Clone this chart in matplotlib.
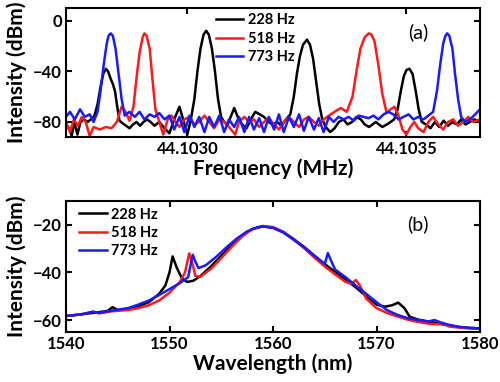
import numpy as np
import matplotlib
matplotlib.use("Agg")
import matplotlib.pyplot as plt

plt.rcParams['font.family'] = ['Lato', 'DejaVu Sans']

# ---- panel (a): beat notes, offsets in Hz from 44.1030 MHz ----
f0 = 44.1030
labels = ['228 Hz', '518 Hz', '773 Hz']
colors = ['black', '#ff1a1a', '#1a1aff']

a_black_hz = [-277, -270, -264, -258, -251, -244, -236, -228, -220, -212, -205, -198, -192, -186,
              -181, -175, -170, -165, -160, -155, -148, -140, -132, -124, -116, -108, -100, -92,
              -84, -75, -64, -52, -41, -30, -18, -8, 0, 8, 16, 23, 30, 37, 43, 49, 56, 63, 70,
              77, 84, 92, 100, 107, 115, 125, 135, 145, 155, 165, 175, 185, 195, 205, 215, 225,
              235, 243, 250, 257, 264, 273, 280, 287, 294, 301, 308, 316, 326, 336, 346, 356,
              366, 376, 386, 396, 405, 415, 430, 445, 460, 472, 480, 487, 494, 500, 507, 514,
              521, 528, 535, 545, 555, 565, 575, 585, 595, 605, 615, 625, 635, 645, 655, 668]
a_black_db = [-82, -85, -91, -80, -90, -80, -78, -80, -78, -75, -66, -52, -42, -38,
              -40, -46, -50, -56, -68, -79, -81, -83, -85, -82, -80, -83, -80, -78,
              -80, -83, -80, -85, -89, -78, -68, -80, -90, -78, -62, -40, -22, -11, -8, -11, -22, -40, -62,
              -76, -80, -82, -75, -69, -76, -82, -85, -78, -72, -74, -76, -80, -82, -80, -83, -78,
              -74, -60, -42, -28, -19, -15, -19, -30, -48, -66, -78, -84, -88, -85, -80, -78,
              -82, -80, -76, -78, -82, -84, -80, -84, -81, -78, -70, -56, -44, -39, -38, -42,
              -55, -70, -80, -82, -85, -80, -84, -79, -83, -80, -82, -78, -82, -80, -78, -80]

a_red_hz = [-277, -268, -259, -250, -241, -232, -223, -214, -200, -186, -173, -161, -150, -141,
            -132, -123, -116, -109, -102, -98, -93, -86, -80, -73, -64, -55, -45, -36, -27, -18,
            -7, 5, 16, 27, 39, 50, 61, 73, 84, 95, 109, 118, 130, 141, 152, 164, 175, 186, 198,
            209, 220, 232, 243, 255, 266, 277, 289, 300, 311, 323, 336, 350, 364, 377, 386, 395,
            405, 414, 420, 427, 436, 445, 455, 464, 473, 482, 491, 500, 509, 518, 527, 539, 550,
            561, 573, 584, 595, 607, 618, 630, 641, 652, 668]
a_red_db = [-80, -88, -78, -83, -76, -80, -91, -84, -86, -84, -85, -80, -68, -72,
            -79, -68, -45, -25, -13, -10, -12, -22, -45, -70, -80, -90, -78, -75, -80, -84,
            -78, -76, -82, -80, -75, -80, -85, -78, -80, -84, -90, -80, -76, -80, -78, -84, -80, -77, -82,
            -86, -80, -76, -80, -84, -78, -76, -80, -83, -78, -75, -72, -69, -72, -60, -40, -22,
            -13, -10, -11, -16, -35, -58, -73, -70, -68, -75, -86, -90, -84, -80, -85, -88, -80,
            -76, -82, -86, -80, -78, -83, -80, -76, -80, -78]

a_blue_hz = [-277, -268, -257, -245, -234, -223, -214, -205, -198, -191, -184, -180, -175, -170,
             -164, -157, -150, -143, -132, -120, -109, -98, -86, -75, -64, -52, -41, -30, -18, -7,
             5, 16, 27, 39, 50, 61, 73, 84, 95, 107, 118, 130, 141, 152, 164, 175, 186, 198, 209,
             220, 232, 243, 255, 266, 277, 289, 300, 311, 323, 334, 345, 357, 368, 380, 391, 402,
             414, 425, 436, 448, 459, 470, 482, 493, 505, 516, 527, 539, 550, 561, 570, 577, 584,
             589, 593, 598, 605, 611, 618, 625, 634, 645, 657, 668]
a_blue_db = [-76, -72, -78, -70, -76, -74, -80, -72, -55, -35, -18, -12, -10, -12,
             -22, -42, -62, -75, -72, -76, -72, -78, -74, -76, -73, -78, -75, -86, -76, -88,
             -75, -84, -76, -88, -76, -84, -75, -88, -78, -84, -76, -88, -76, -86, -77, -88, -76, -86, -74,
             -88, -76, -84, -74, -87, -76, -86, -77, -88, -76, -80, -76, -78, -76, -79, -75, -76,
             -77, -75, -78, -74, -72, -74, -78, -76, -74, -78, -76, -78, -75, -72, -55, -35, -18,
             -12, -10, -12, -22, -42, -62, -76, -80, -78, -74, -70]

# ---- panel (b): optical spectra ----
b_black_nm = [1540.0, 1541.5, 1543.0, 1544.0, 1544.5, 1545.0, 1546.0, 1547.0, 1548.0, 1549.0,
              1549.6, 1550.0, 1550.3, 1550.7, 1551.2, 1551.7, 1552.3, 1553.0, 1554.0, 1555.0,
              1556.0, 1557.0, 1558.0, 1559.0, 1560.0, 1561.0, 1562.0, 1563.0, 1564.0, 1565.0,
              1566.0, 1567.0, 1568.0, 1569.0, 1570.0, 1570.8, 1571.5, 1572.1, 1572.7, 1573.2,
              1574.0, 1575.0, 1576.0, 1577.0, 1578.0, 1579.0, 1580.0]
b_black_db = [-58.3, -57.6, -56.8, -56.2, -54.6, -55.8, -55.2, -54.2, -52.5, -49.0,
              -45.5, -40.0, -33.3, -38.0, -42.5, -44.0, -43.5, -41.5, -37.5, -33.0,
              -28.5, -24.5, -21.8, -20.7, -21.2, -23.0, -26.0, -29.3, -33.0, -36.5,
              -39.8, -43.0, -46.3, -50.0, -53.5, -54.4, -53.8, -52.7, -55.0, -58.6,
              -59.8, -60.6, -61.5, -62.3, -62.9, -63.3, -63.5]

b_red_nm = [1540.0, 1541.5, 1542.6, 1543.2, 1544.5, 1546.0, 1547.0, 1548.0, 1549.0, 1550.0,
            1551.0, 1551.5, 1551.9, 1552.2, 1552.5, 1553.0, 1554.0, 1555.0, 1556.0, 1557.0,
            1558.0, 1559.0, 1560.0, 1561.0, 1562.0, 1563.0, 1564.0, 1565.0, 1566.0, 1567.0,
            1567.6, 1568.0, 1568.4, 1569.0, 1570.0, 1571.0, 1572.0, 1573.0, 1574.0, 1575.0,
            1576.0, 1576.3, 1577.0, 1578.0, 1579.0, 1580.0]
b_red_db = [-58.3, -57.6, -56.5, -57.2, -56.3, -55.8, -55.0, -53.8, -51.8, -48.5,
            -44.0, -40.0, -32.0, -36.0, -41.5, -41.8, -38.5, -34.0, -29.3, -25.0,
            -21.8, -20.5, -21.0, -23.0, -26.2, -29.8, -33.8, -37.5, -40.8, -44.0,
            -44.8, -43.2, -45.5, -51.0, -55.0, -57.0, -58.5, -59.8, -60.8, -61.5,
            -61.8, -61.3, -62.7, -63.2, -63.5, -63.7]

b_blue_nm = [1540.0, 1541.5, 1542.6, 1543.2, 1544.5, 1546.0, 1547.0, 1548.0, 1549.0, 1550.0,
             1551.0, 1551.8, 1552.25, 1552.5, 1552.8, 1553.5, 1554.5, 1555.5, 1556.5, 1557.5,
             1558.5, 1559.0, 1560.0, 1561.0, 1562.0, 1563.0, 1564.0, 1565.0, 1565.3, 1565.6,
             1566.0, 1567.0, 1568.0, 1569.0, 1570.0, 1571.0, 1572.0, 1573.0, 1574.0, 1575.0,
             1575.6, 1576.2, 1577.0, 1578.0, 1579.0, 1580.0]
b_blue_db = [-58.3, -57.6, -56.5, -57.0, -56.0, -55.0, -53.5, -51.8, -49.5, -47.0,
             -44.5, -42.0, -32.6, -35.5, -38.2, -37.0, -33.5, -29.5, -25.8, -22.8,
             -21.0, -20.7, -21.3, -23.3, -26.3, -29.5, -33.0, -36.5, -31.9, -35.0,
             -38.8, -42.0, -45.5, -49.0, -52.5, -55.8, -57.8, -59.2, -60.0, -60.6,
             -60.0, -61.0, -62.0, -62.9, -63.3, -63.5]

fig = plt.figure(figsize=(5, 3.82), dpi=100)
ax1 = fig.add_axes([0.132, 0.641, 0.828, 0.338])
ax2 = fig.add_axes([0.132, 0.131, 0.828, 0.343])

a_x = [a_black_hz, a_red_hz, a_blue_hz]
a_y = [a_black_db, a_red_db, a_blue_db]
for xs, ys, c, lab in zip(a_x, a_y, colors, labels):
    ax1.plot(f0 + np.array(xs) / 1e6, ys, color=c, lw=1.8, label=lab)

b_x = [b_black_nm, b_red_nm, b_blue_nm]
b_y = [b_black_db, b_red_db, b_blue_db]
for xs, ys, c, lab in zip(b_x, b_y, colors, labels):
    ax2.plot(xs, ys, color=c, lw=1.8, label=lab)

ax1.set_xlim(f0 - 277e-6, f0 + 668e-6)
ax1.set_ylim(-92, 10)
ax1.set_xticks([44.1030, 44.1035])
ax1.set_xticklabels(['44.1030', '44.1035'])
ax1.set_yticks([0, -40, -80])
ax1.set_xlabel('Frequency (MHz)', fontsize=15, fontweight='bold', labelpad=1)
ax1.set_ylabel('Intensity (dBm)', fontsize=15, fontweight='bold', labelpad=4)
ax1.text(0.85, 0.81, '(a)', transform=ax1.transAxes, fontsize=14, ha='center', va='center')
ax1.legend(loc='upper left', bbox_to_anchor=(0.33, 1.06), frameon=False, handlelength=1.9,
           handletextpad=0.3, labelspacing=0.3, prop={'weight': 'bold', 'size': 10.5})

ax2.set_xlim(1540, 1580)
ax2.set_ylim(-65, -10)
ax2.set_xticks([1540, 1550, 1560, 1570, 1580])
ax2.set_yticks([-20, -40, -60])
ax2.set_xlabel('Wavelength (nm)', fontsize=15, fontweight='bold', labelpad=1)
ax2.set_ylabel('Intensity (dBm)', fontsize=15, fontweight='bold', labelpad=4)
ax2.text(0.85, 0.82, '(b)', transform=ax2.transAxes, fontsize=14, ha='center', va='center')
ax2.legend(loc='upper left', bbox_to_anchor=(0.0, 1.05), frameon=False, handlelength=1.9,
           handletextpad=0.3, labelspacing=0.3, prop={'weight': 'bold', 'size': 10.5})

for ax in (ax1, ax2):
    for s in ax.spines.values():
        s.set_linewidth(1.5)
    ax.tick_params(direction='in', top=True, right=True, length=4, width=1.5,
                   labelsize=12, pad=3)
    for t in ax.get_xticklabels() + ax.get_yticklabels():
        t.set_fontweight('bold')

fig.savefig('out.png', dpi=100)
